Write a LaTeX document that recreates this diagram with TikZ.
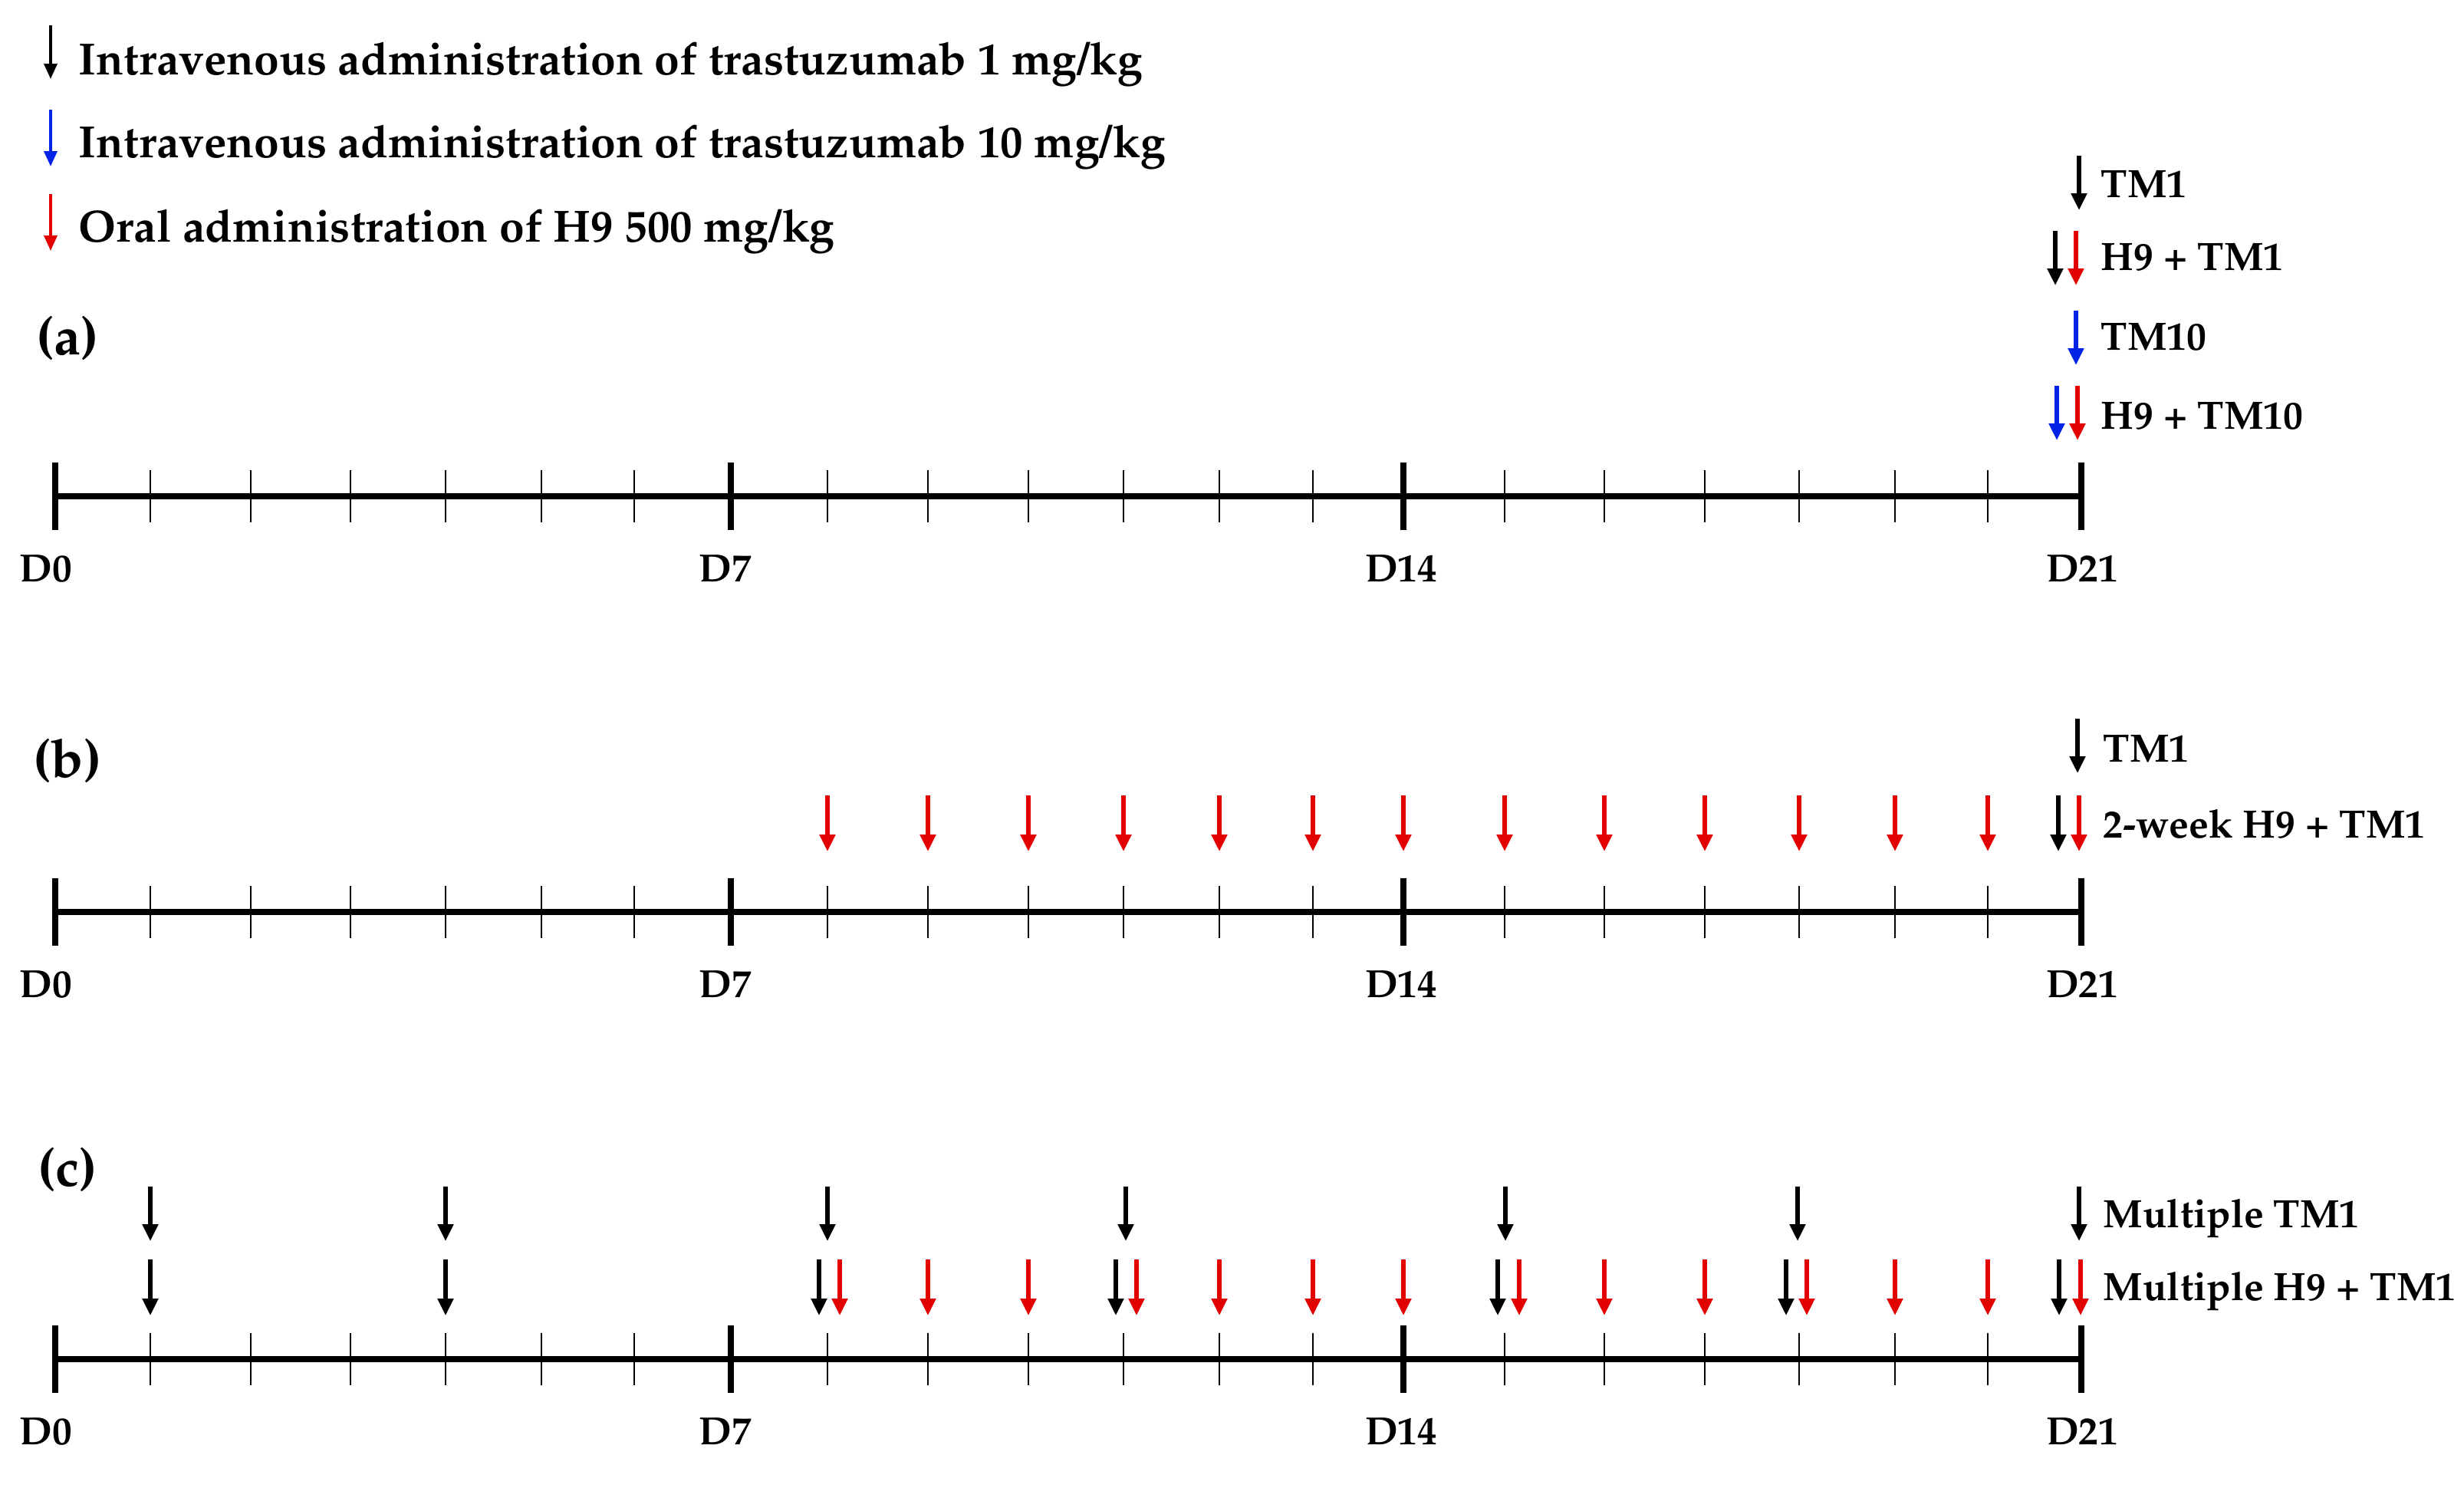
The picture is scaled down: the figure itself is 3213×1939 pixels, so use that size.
\documentclass[tikz,border=0pt]{standalone}
\usepackage[T1]{fontenc}
\renewcommand{\rmdefault}{ppl}
\usetikzlibrary{arrows.meta,calc}
\definecolor{arred}{RGB}{226,0,0}
\definecolor{arblue}{RGB}{0,35,230}
\tikzset{
  dose/.style={line width=1.3pt,-{Triangle[width=5pt,length=5.5pt]}},
  legarr/.style={line width=1pt,-{Triangle[width=4.2pt,length=5pt]}},
  axisline/.style={line width=2pt},
  majortick/.style={line width=2pt},
  minortick/.style={line width=0.6pt},
  legtext/.style={anchor=base west,inner sep=0pt,font=\fontsize{14.7}{17}\selectfont\bfseries},
  grouplab/.style={anchor=base west,inner sep=0pt,font=\fontsize{12.9}{15}\selectfont\bfseries},
  daylab/.style={anchor=base,inner sep=0pt,font=\fontsize{12.8}{15}\selectfont\bfseries},
  panellab/.style={inner sep=0pt,font=\fontsize{17.4}{20}\selectfont\bfseries},
}
\begin{document}
\begin{tikzpicture}[x=0.25pt,y=-0.25pt]
\useasboundingbox (0,0) rectangle (3213,1939);
% legend
\draw[legarr,black] (66,33) -- (66,103);
\draw[legarr,arblue] (66,143) -- (66,217);
\draw[legarr,arred] (66,253) -- (66,327);
\node[legtext] (leg1) at (102,97) {Intravenous administration of trastuzumab 1 mg/kg};
\node[legtext] (leg2) at (102,205) {Intravenous administration of trastuzumab 10 mg/kg};
\node[legtext] (leg3) at (102,315) {Oral administration of H9 500 mg/kg};
% timelines
\foreach \p/\y in {a/647,b/1189,c/1772}{
  \foreach \d/\x in {0/72,1/196,2/327,3/457,4/581,5/706,6/827,7/953,8/1079,9/1210,10/1341,11/1465,12/1590,13/1712,14/1830,15/1962,16/2092,17/2223,18/2346,19/2471,20/2592,21/2714}
    \coordinate (\p\d) at (\x,\y);
  \draw[axisline] (\p0) -- (\p21);
  \foreach \d in {0,7,14,21} \draw[majortick] ($(\p\d)+(0,-44)$) -- ($(\p\d)+(0,44)$);
  \foreach \d in {1,2,3,4,5,6,8,9,10,11,12,13,15,16,17,18,19,20} \draw[minortick] ($(\p\d)+(0,-34)$) -- ($(\p\d)+(0,34)$);
  \node[daylab] (\p-D0) at ($(\p0)+(-12,111)$) {D0};
  \node[daylab] (\p-D7) at ($(\p7)+(-7,111)$) {D7};
  \node[daylab] (\p-D14) at ($(\p14)+(-3,111)$) {D14};
  \node[daylab] (\p-D21) at ($(\p21)+(1,111)$) {D21};
}
% panel labels
\node[panellab] (pa) at (88,441) {(a)};
\node[panellab] (pb) at (88,992) {(b)};
\node[panellab] (pc) at (88,1525) {(c)};
% (a)
\draw[dose] ($(a21)+(-3,-444)$) -- ++(0,71);
\draw[dose] ($(a21)+(-34,-346)$) -- ++(0,71);
\draw[dose,arred] ($(a21)+(-7,-346)$) -- ++(0,71);
\draw[dose,arblue] ($(a21)+(-7,-242)$) -- ++(0,71);
\draw[dose,arblue] ($(a21)+(-32,-144)$) -- ++(0,71);
\draw[dose,arred] ($(a21)+(-5,-144)$) -- ++(0,71);
\node[grouplab] (la1) at (2739,257) {TM1};
\node[grouplab] (la2) at (2739,352) {H9 + TM1};
\node[grouplab] (la3) at (2739,456) {TM10};
\node[grouplab] (la4) at (2739,559) {H9 + TM10};
% (b)
\draw[dose] ($(b21)+(-5,-252)$) -- ++(0,71);
\foreach \d in {8,...,20} \draw[dose,arred] ($(b\d)+(0,-152)$) -- ++(0,73);
\draw[dose] ($(b21)+(-30,-152)$) -- ++(0,73);
\draw[dose,arred] ($(b21)+(-3,-152)$) -- ++(0,73);
\node[grouplab] (lb1) at (2742,993) {TM1};
\node[grouplab] (lb2) at (2742,1092) {2-week H9 + TM1};
% (c)
\foreach \d/\o in {1/0,4/0,8/0,11/3,15/1,18/-2,21/-3}
  \draw[dose] ($(c\d)+(\o,-225)$) -- ++(0,71);
\foreach \d/\o in {1/0,4/0,8/-11,11/-10,15/-9,18/-17,21/-29}
  \draw[dose] ($(c\d)+(\o,-130)$) -- ++(0,73);
\foreach \d/\o in {8/16,9/0,10/0,11/17,12/0,13/0,14/0,15/19,16/0,17/0,18/10,19/0,20/0,21/-1}
  \draw[dose,arred] ($(c\d)+(\o,-130)$) -- ++(0,73);
\node[grouplab] (lc1) at (2742,1600) {Multiple TM1};
\node[grouplab] (lc2) at (2742,1695) {Multiple H9 + TM1};
\end{tikzpicture}
\end{document}
